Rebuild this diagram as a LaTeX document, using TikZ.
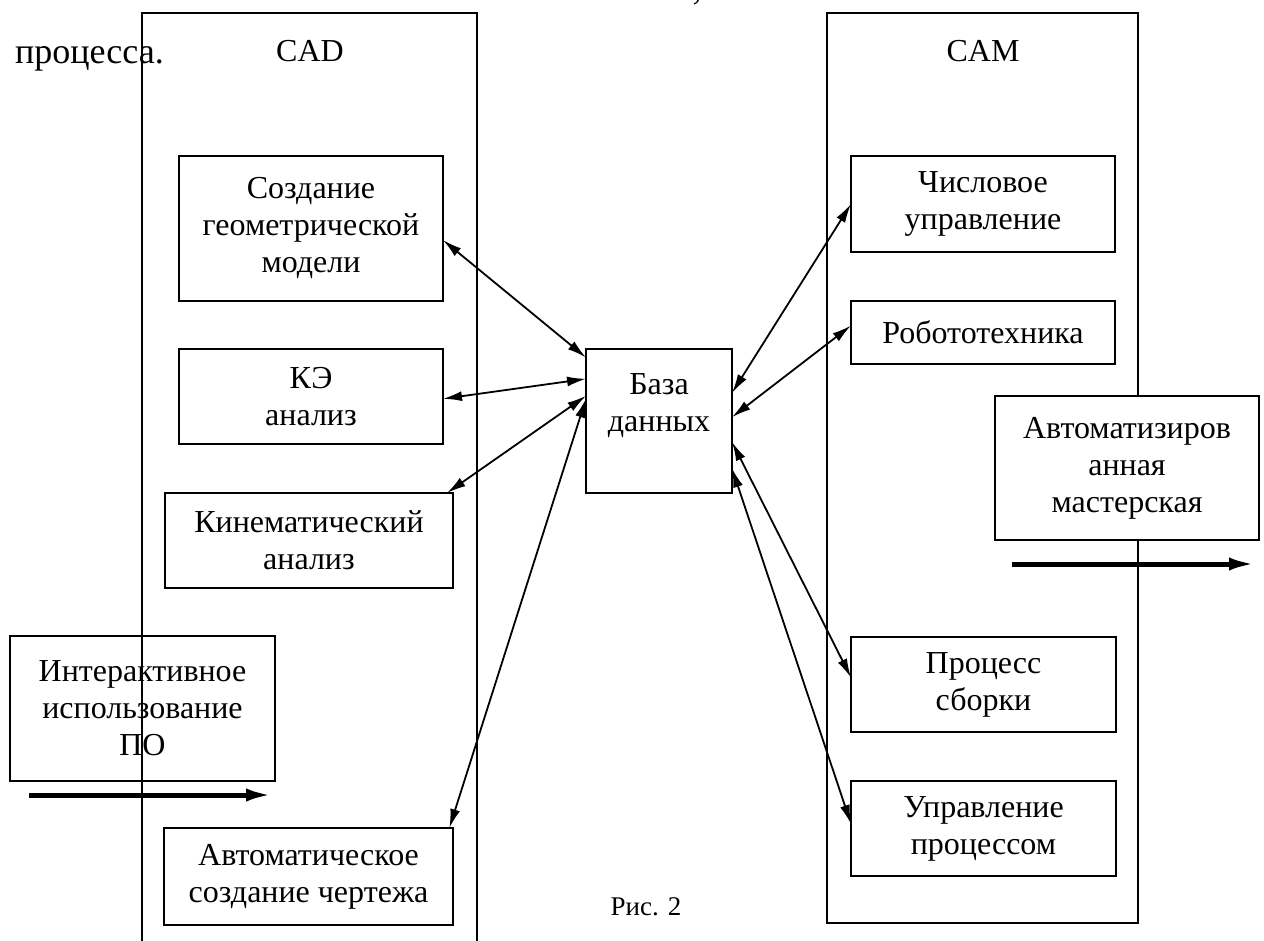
\documentclass[tikz,border=0pt]{standalone}
\usepackage{fontspec}
\setmainfont{Liberation Serif}
\usetikzlibrary{arrows.meta,positioning}
\newcommand{\boxFont}[0]{\fontsize{32}{37}\selectfont}
\newcommand{\textFont}[0]{\fontsize{36}{42}\selectfont}
\newcommand{\boxLine}[0]{2pt}
\newcommand{\linkTip}[0]{Latex[length=19pt,width=10pt]}

\begin{document}
\begin{tikzpicture}[x=1pt, y=-1pt]
  \tikzset{every node/.style={inner sep=0pt, outer sep=0pt},
    frame/.style={draw, line width=\boxLine},
    unit/.style={draw, line width=\boxLine, align=center, font=\boxFont},
    link/.style={{\linkTip}-{\linkTip}, line width=1.8pt},
    flow/.style={-{Latex[length=27pt,width=13pt]}, line width=5pt}}
  \useasboundingbox (0,0) rectangle (1264,941);
  % text of the page round the figure
  \node[anchor=base, font=\textFont] (comma) at (697,0) {,};
  \node[anchor=base west, font=\textFont] (prev) at (15,64) {процесса.};
  % the two systems
  \node[frame, minimum width=335pt, minimum height=945pt] (cad) at (309.5,485.5) {};
  \node[frame, minimum width=311pt, minimum height=910pt] (cam) at (982.5,468) {};
  \node[anchor=base, font=\boxFont] (cadName) at (310,62) {CAD};
  \node[anchor=base, font=\boxFont] (camName) at (983,62) {CAM};
  % CAD side
  \node[unit, minimum width=264pt, minimum height=145pt] (geo) at (311,228.5)
    {Создание\\геометрической\\модели};
  \node[unit, minimum width=264pt, minimum height=95pt] (fea) at (311,396.5)
    {КЭ\\анализ};
  \node[unit, minimum width=288pt, minimum height=95pt] (kin) at (309,540.5)
    {Кинематический\\анализ};
  \node[unit, minimum width=265pt, minimum height=145pt] (inter) at (142.5,708.5)
    {Интерактивное\\использование\\ПО};
  \node[unit, minimum width=289pt, minimum height=97pt] (draft) at (308.5,876.5)
    {Автоматическое\\создание чертежа};
  % database
  \node[unit, minimum width=146pt, minimum height=144pt] (db) at (659,421)
    {База\\данных\\\mbox{}};
  % CAM side
  \node[unit, minimum width=264pt, minimum height=96pt] (num) at (983,204)
    {Числовое\\управление};
  \node[unit, minimum width=264pt, minimum height=63pt] (robot) at (983,332.5)
    {Робототехника};
  \node[unit, fill=white, minimum width=264pt, minimum height=144pt] (shop) at (1127,468)
    {Автоматизиров\\анная\\мастерская};
  \node[unit, minimum width=265pt, minimum height=95pt] (asm) at (983.5,684.5)
    {Процесс\\сборки};
  \node[unit, minimum width=265pt, minimum height=95pt] (pctl) at (983.5,828.5)
    {Управление\\процессом};
  \node[anchor=base, font=\fontsize{27}{32}\selectfont] (caption) at (646,915) {Рис. 2};
  % links to the database
  \draw[link] (geo.-5.4) -- (db.139.2);
  \draw[link] (fea.-1.9) -- (db.150.1);
  \draw[link] (kin.19.3) -- (db.161.8);
  \draw[link] (draft.19.8) -- (db.163.9);
  \draw[link] (num.180.9) -- (db.21);
  \draw[link] (robot.177.6) -- (db.3.1);
  \draw[link] (asm.177.6) -- (db.-16.8);
  \draw[link] (pctl.178.1) -- (db.-33.3);
  % flow arrows
  \coordinate (interFrom) at (29,795);
  \coordinate (interTo) at (273,795);
  \coordinate (shopFrom) at (1012,564);
  \coordinate (shopTo) at (1256,564);
  \draw[flow] (interFrom) -- (interTo);
  \draw[flow] (shopFrom) -- (shopTo);
\end{tikzpicture}
\end{document}
